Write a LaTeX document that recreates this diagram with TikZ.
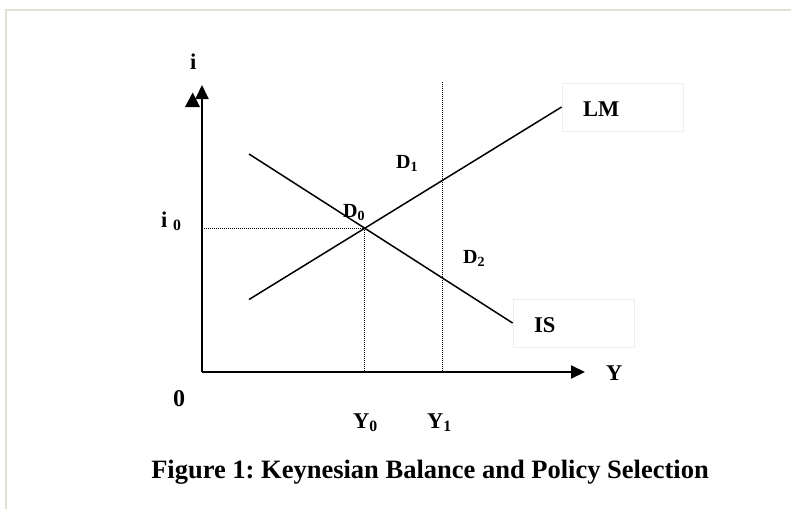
\documentclass[tikz,border=0pt]{standalone}
\usepackage{fontspec}
\setmainfont{Liberation Serif}
\usetikzlibrary{arrows.meta,intersections}
\definecolor{framebeige}{RGB}{228,224,208}
\definecolor{boxgray}{RGB}{238,238,238}
\frenchspacing
\begin{document}
\begin{tikzpicture}[x=1pt,y=-1pt,
  every node/.style={font=\bfseries\fontsize{22.5}{22.5}\selectfont, inner sep=0pt, anchor=base west},
  dlabel/.style={font=\bfseries\fontsize{20}{20}\selectfont},
  axis/.style={line width=2pt, -{Triangle[length=14pt,width=13pt]}},
  curve/.style={line width=1.5pt},
  guide/.style={line width=1pt, densely dotted},
  labelbox/.style={draw=boxgray, line width=0.8pt, minimum width=121pt, minimum height=48pt, anchor=center}
]
\useasboundingbox (0,0) rectangle (791,509);
\draw[framebeige, line width=2pt] (5.5,509) -- (5.5,9.5) -- (791,9.5);

\coordinate (O) at (202,372);
\coordinate (ytip) at (202,85);
\coordinate (xtip) at (585,372);
\coordinate (isstart) at (249,154);
\coordinate (lmstart) at (249,299.5);
\coordinate (y1top) at (442,82);

\node[labelbox] (lmbox) at (622.5,107) {};
\node[labelbox] (isbox) at (573.5,323) {};
\node (lm) at (583,116) {LM};
\node (is) at (534,332) {IS};

\draw[axis] (O) -- (ytip);
\draw[axis] (O) -- (xtip);
\fill (192.7,92.5) -- (185,107) -- (200,107) -- cycle;

\draw[curve, name path=isline] (isstart) -- (isbox.west);
\draw[curve, name path=lmline] (lmstart) -- (lmbox.west);
\path[name intersections={of=isline and lmline, by=E}];
\draw[guide] (E) -- (E -| O);
\draw[guide] (E) -- (E |- O);
\draw[guide] (y1top) -- (y1top |- O);

\node (ilab) at (190,69) {i};
\node (xlab) at (606,380) {Y};
\node[font=\bfseries\fontsize{24}{24}\selectfont] (zero) at (173,406) {0};
\node (i0) at (161,227) {i \textsubscript{0}};
\node[dlabel] (d0) at (343,217) {D\textsubscript{0}};
\node[dlabel] (d1) at (396,168) {D\textsubscript{1}};
\node[dlabel] (d2) at (463,263) {D\textsubscript{2}};
\node (y0) at (353,428) {Y\textsubscript{0}};
\node (y1) at (427,428) {Y\textsubscript{1}};
\node[font=\bfseries\fontsize{26.5}{26.5}\selectfont, anchor=base] (caption) at (430,478) {Figure 1: Keynesian Balance and Policy Selection};
\end{tikzpicture}
\end{document}
